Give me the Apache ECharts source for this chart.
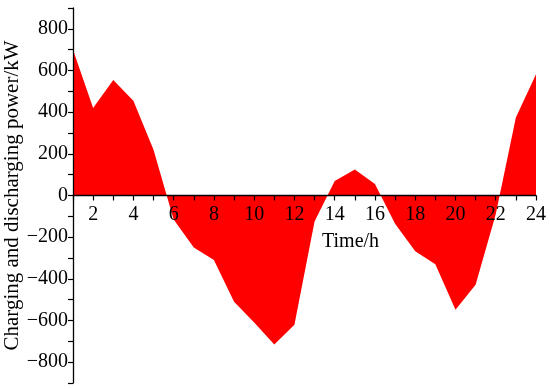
<!DOCTYPE html>
<html>
<head>
<meta charset="utf-8">
<script src="https://cdn.jsdelivr.net/npm/echarts@6/dist/echarts.min.js"></script>
<style>
  html, body { margin: 0; padding: 0; background: #fff; }
  #chart { width: 550px; height: 389px; }
</style>
</head>
<body>
<div id="chart"></div>
<script>
// hours of the day
const hours = [1, 2, 3, 4, 5, 6, 7, 8, 9, 10, 11, 12, 13, 14, 15, 16, 17, 18, 19, 20, 21, 22, 23, 24]
// charging (+) / discharging (-) power, kW
const power = [700, 420, 555, 455, 220, -115, -250, -310, -510, -610, -715, -620,
               -125, 70, 125, 55, -135, -268, -330, -548, -428, -90, 375, 582]
const yLabels = [-800, -600, -400, -200, 0, 200, 400, 600, 800]
const xLabels = [2, 4, 6, 8, 10, 12, 14, 16, 18, 20, 22, 24]

const font = 'Liberation Serif'
const chart = echarts.init(document.getElementById('chart'))

const option = {
    animation: false,
    textStyle: { fontFamily: font, color: '#000' },
    grid: {
        left: 73,
        right: 14,
        top: 8,
        bottom: 6,
        containLabel: false,
        outerBoundsMode: 'none'
    },
    xAxis: {
        type: 'value',
        min: 1,
        max: 24,
        interval: 1,
        position: 'bottom',
        // move the axis up to the y = 0 line (half of the grid height)
        offset: -187.5,
        z: 5,
        axisLine: { onZero: false, lineStyle: { color: '#000', width: 1.3 } },
        axisTick: { show: true, length: 5, lineStyle: { color: '#000', width: 1.2 } },
        axisLabel: {
            color: '#000',
            fontFamily: font,
            fontSize: 20,
            margin: 9,
            formatter: v => xLabels.includes(v) ? String(v) : ''
        },
        splitLine: { show: false }
    },
    yAxis: {
        type: 'value',
        min: -900,
        max: 900,
        interval: 100,
        z: 5,
        name: 'Charging and discharging power/kW',
        nameLocation: 'middle',
        nameGap: 50,
        nameMoveOverlap: false,
        nameTextStyle: { color: '#000', fontFamily: font, fontSize: 21 },
        axisLine: { show: true, lineStyle: { color: '#000', width: 1.3 } },
        axisTick: { show: true, length: 5, lineStyle: { color: '#000', width: 1.2 } },
        axisLabel: {
            color: '#000',
            fontFamily: font,
            fontSize: 20,
            margin: 5,
            formatter: v => yLabels.includes(v) ? String(v).replace('-', '\u2212') : ''
        },
        splitLine: { show: false }
    },
    graphic: [{
        type: 'text',
        left: 322,
        top: 232,
        style: { text: 'Time/h', fill: '#000', font: '20px "Liberation Serif"' }
    }],
    series: [{
        type: 'line',
        data: hours.map((h, i) => [h, power[i]]),
        showSymbol: false,
        lineStyle: { width: 0 },
        areaStyle: { color: '#ff0000', opacity: 1, origin: 0 },
        z: 1
    }]
}

chart.setOption(option)
</script>
</body>
</html>
